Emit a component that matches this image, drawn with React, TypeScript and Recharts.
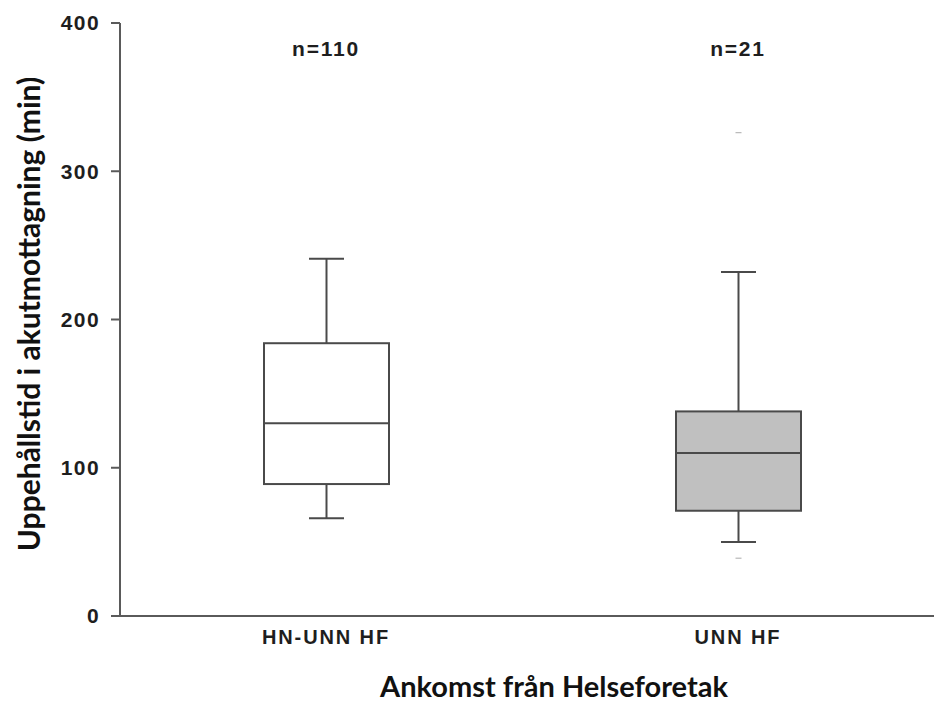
import React from 'react';
import { ComposedChart, Bar, XAxis, YAxis, ReferenceDot } from 'recharts';

// values (minutes)
const categories = ['HN-UNN HF', 'UNN HF'];
const nLabels = ['n=110', 'n=21'];
const whiskerLow = [66, 50];
const q1 = [89, 71];
const median = [130, 110];
const q3 = [184, 138];
const whiskerHigh = [241, 232];
const outliers: number[][] = [[], [326, 39]];
const yTicks = [0, 100, 200, 300, 400];

const BOX_FILLS = ['#ffffff', '#c0c0c0'];
const LINE = '#4a4a4a';
const AXIS = '#5a5a5a';
const TICK_FONT = '"Liberation Sans", Arial, sans-serif';
const TITLE_FONT = 'Lato, "Open Sans", sans-serif';

const data = categories.map((name, i) => {
  const all = [whiskerLow[i], whiskerHigh[i], ...outliers[i]];
  const lo = Math.min(...all);
  const hi = Math.max(...all);
  return {
    name,
    range: [lo, hi],
    lo,
    hi,
    whiskerLow: whiskerLow[i],
    q1: q1[i],
    median: median[i],
    q3: q3[i],
    whiskerHigh: whiskerHigh[i],
    outliers: outliers[i],
    fill: BOX_FILLS[i],
  };
});

// draws the box + whiskers inside the pixel span the library gives for [lo, hi]
const BoxShape = (props: any) => {
  const { x, y, width, height, payload } = props;
  if (x == null || y == null) return null;
  const top = Math.min(y, y + height);
  const bottom = Math.max(y, y + height);
  const { lo, hi } = payload;
  const py = (v: number) => bottom - ((v - lo) / (hi - lo)) * (bottom - top);
  const cx = x + width / 2;
  const cap = 35;
  return (
    <g>
      <line x1={cx} x2={cx} y1={py(payload.whiskerHigh)} y2={py(payload.q3)} stroke={LINE} strokeWidth={2} />
      <line x1={cx} x2={cx} y1={py(payload.q1)} y2={py(payload.whiskerLow)} stroke={LINE} strokeWidth={2} />
      <line x1={cx - cap / 2} x2={cx + cap / 2} y1={py(payload.whiskerHigh)} y2={py(payload.whiskerHigh)} stroke={LINE} strokeWidth={2} />
      <line x1={cx - cap / 2} x2={cx + cap / 2} y1={py(payload.whiskerLow)} y2={py(payload.whiskerLow)} stroke={LINE} strokeWidth={2} />
      <rect
        x={x}
        y={py(payload.q3)}
        width={width}
        height={py(payload.q1) - py(payload.q3)}
        fill={payload.fill}
        stroke={LINE}
        strokeWidth={2}
      />
      <line x1={x} x2={x + width} y1={py(payload.median)} y2={py(payload.median)} stroke={LINE} strokeWidth={2} />
      {payload.outliers.map((v: number, k: number) => (
        <line key={k} x1={cx - 3} x2={cx + 3} y1={py(v)} y2={py(v)} stroke="#aaaaaa" strokeWidth={1} />
      ))}
    </g>
  );
};

export default function App() {
  return (
    <div style={{ position: 'absolute', left: 0, top: 0, width: 934, height: 704, overflow: 'hidden', background: '#fff' }}>
      <ComposedChart width={944} height={704} data={data} margin={{ top: 23, right: 0, bottom: 28, left: 0 }}>
        <XAxis
          dataKey="name"
          height={60}
          tickLine={false}
          axisLine={{ stroke: AXIS, strokeWidth: 2 }}
          tickMargin={8}
          tick={{ fill: '#1e1e1e', fontSize: 20, fontWeight: 700, fontFamily: TICK_FONT, letterSpacing: 1.9 }}
          label={{
            content: () => (
              <text x={554} y={697} textAnchor="middle" fill="#111" fontSize={29} fontWeight={700} fontFamily={TITLE_FONT}>
                Ankomst från Helseforetak
              </text>
            ),
          }}
        />
        <YAxis
          type="number"
          domain={[0, 400]}
          ticks={yTicks}
          width={120}
          tickSize={9}
          tickMargin={11}
          axisLine={{ stroke: AXIS, strokeWidth: 2 }}
          tickLine={{ stroke: AXIS, strokeWidth: 2 }}
          tick={{ fill: '#1e1e1e', fontSize: 21, fontWeight: 700, fontFamily: TICK_FONT, letterSpacing: 1.4 }}
          label={{
            content: () => (
              <text
                x={28}
                y={314}
                transform="rotate(-90, 28, 314)"
                textAnchor="middle"
                dominantBaseline="central"
                fill="#111"
                fontSize={30}
                fontWeight={700}
                fontFamily={TITLE_FONT}
              >
                Uppehållstid i akutmottagning (min)
              </text>
            ),
          }}
        />
        <Bar dataKey="range" barSize={125} shape={<BoxShape />} isAnimationActive={false} />
        {categories.map((c, i) => (
          <ReferenceDot
            key={c}
            x={c}
            y={383}
            r={0}
            fill="none"
            stroke="none"
            label={{
              value: nLabels[i],
              position: 'center',
              fill: '#1e1e1e',
              fontSize: 21,
              fontWeight: 700,
              fontFamily: TICK_FONT,
              letterSpacing: 1.8,
            }}
          />
        ))}
      </ComposedChart>
    </div>
  );
}
